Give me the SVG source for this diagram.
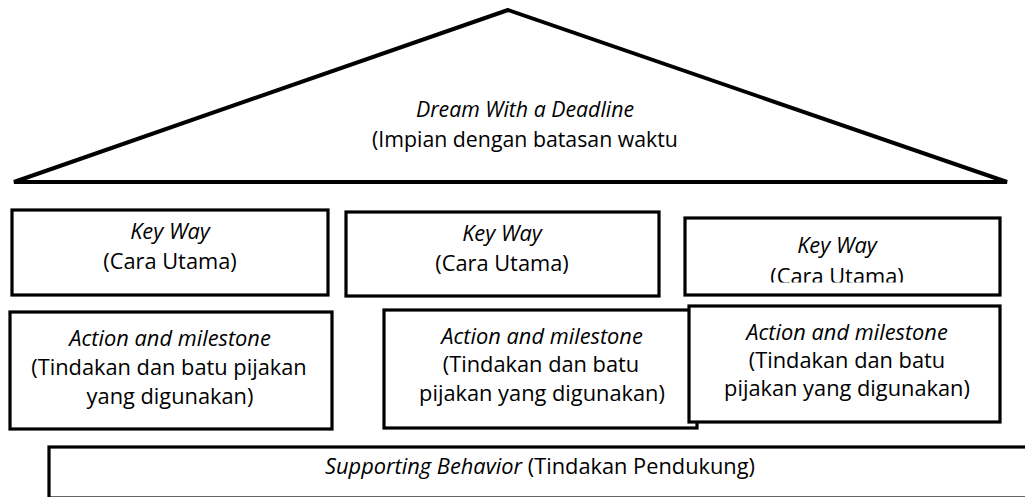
<svg xmlns="http://www.w3.org/2000/svg" width="1025" height="497" viewBox="0 0 1025 497">
<style>
.box{fill:#fff;stroke:#000;stroke-width:3.2}
.t{font-family:"Open Sans","Liberation Sans",sans-serif;font-size:21.8px;fill:#000;text-anchor:middle}
.r{font-size:21.3px}
.i{font-style:italic}
</style>
<defs>
<clipPath id="clip3"><rect x="685" y="218" width="315" height="64.5"/></clipPath>
</defs>
<rect width="1025" height="497" fill="#fff"/>
<g id="roof">
<polygon points="508,10 14,182 1007,182" fill="#fff" stroke="#000" stroke-width="4" stroke-linejoin="miter"/>
<text class="t r i" x="525" y="117">Dream With a Deadline</text>
<text class="t r" x="525" y="147">(Impian dengan batasan waktu</text>
</g>
<g id="keyway1">
<rect class="box" x="12" y="210" width="316" height="85"/>
<text class="t i" x="170" y="239">Key Way</text>
<text class="t" x="170" y="269">(Cara Utama)</text>
</g>
<g id="keyway2">
<rect class="box" x="346" y="212" width="313" height="84"/>
<text class="t i" x="502" y="241">Key Way</text>
<text class="t" x="502" y="271">(Cara Utama)</text>
</g>
<g id="keyway3">
<rect class="box" x="685" y="218" width="315" height="77"/>
<g clip-path="url(#clip3)">
<text class="t i" x="837" y="253">Key Way</text>
<text class="t" x="837" y="284">(Cara Utama)</text>
</g>
</g>
<g id="action1">
<rect class="box" x="10" y="312" width="322" height="117"/>
<text class="t i" x="170" y="346">Action and milestone</text>
<text class="t" x="169" y="375">(Tindakan dan batu pijakan</text>
<text class="t" x="170" y="404">yang digunakan)</text>
</g>
<g id="action2">
<rect class="box" x="384" y="310" width="313" height="118" stroke-width="2.6"/>
<text class="t i" x="542" y="344">Action and milestone</text>
<text class="t" x="541" y="372">(Tindakan dan batu</text>
<text class="t" x="542" y="401">pijakan yang digunakan)</text>
</g>
<g id="action3">
<rect class="box" x="689" y="306" width="311" height="116"/>
<text class="t i" x="847" y="340">Action and milestone</text>
<text class="t" x="847" y="368">(Tindakan dan batu</text>
<text class="t" x="847" y="396">pijakan yang digunakan)</text>
</g>
<g id="supporting">
<rect class="box" x="49" y="447" width="990" height="51"/>
<text class="t" x="540" y="474"><tspan class="i">Supporting Behavior</tspan> (Tindakan Pendukung)</text>
</g>
<g id="connectors"></g>
</svg>
